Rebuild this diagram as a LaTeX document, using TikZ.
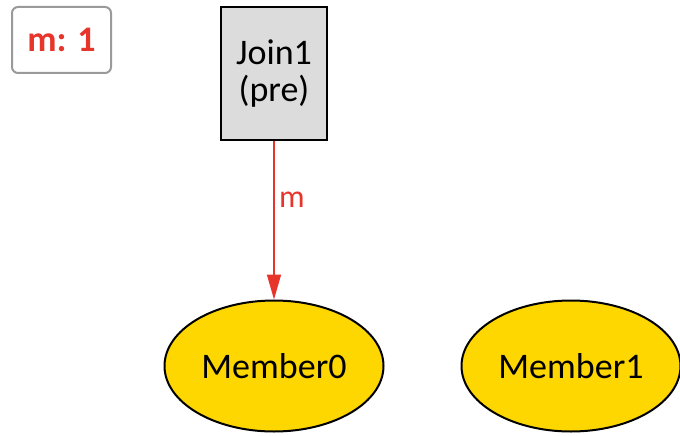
\documentclass[tikz,border=0pt]{standalone}
\usepackage{fontspec}
\setmainfont{Carlito}
\usetikzlibrary{arrows.meta,shapes.geometric}
\definecolor{edgered}{HTML}{E8352B}
\definecolor{memberfill}{HTML}{FFD700}
\definecolor{joinfill}{HTML}{DCDCDC}
\definecolor{legendgray}{HTML}{9A9A9A}
\tikzset{
  x=1pt, y=-1pt,
  basefont/.style={font=\fontsize{36}{37}\selectfont},
  legendbox/.style={draw=legendgray, line width=2pt, rounded corners=6pt, fill=white,
    minimum width=99pt, minimum height=66pt, text=edgered,
    font=\fontsize{36}{37}\selectfont\bfseries},
  joinbox/.style={draw=black, line width=2.6pt, fill=joinfill, minimum width=106pt,
    minimum height=133pt, align=center, basefont, text=black},
  member/.style={ellipse, draw=black, line width=2pt, fill=memberfill,
    minimum width=219pt, minimum height=131pt, inner sep=0pt, basefont},
  flow/.style={draw=edgered, line width=1.6pt, -{Triangle[length=25pt,width=14pt]}},
  flowlabel/.style={text=edgered, font=\fontsize{32}{34}\selectfont, anchor=west}
}
\begin{document}
\begin{tikzpicture}
\useasboundingbox (0,0) rectangle (680,436);
\node[legendbox] (legend) at (61.5,40) {m: 1};
\node[joinbox] (join) at (274,73.5) {Join1\\(pre)};
\node[member] (m0) at (274,366) {Member0};
\node[member] (m1) at (571,366) {Member1};
\draw[flow] (join.south) -- (m0.north) node[pos=0.37, flowlabel, xshift=1pt] {m};
\end{tikzpicture}
\end{document}
